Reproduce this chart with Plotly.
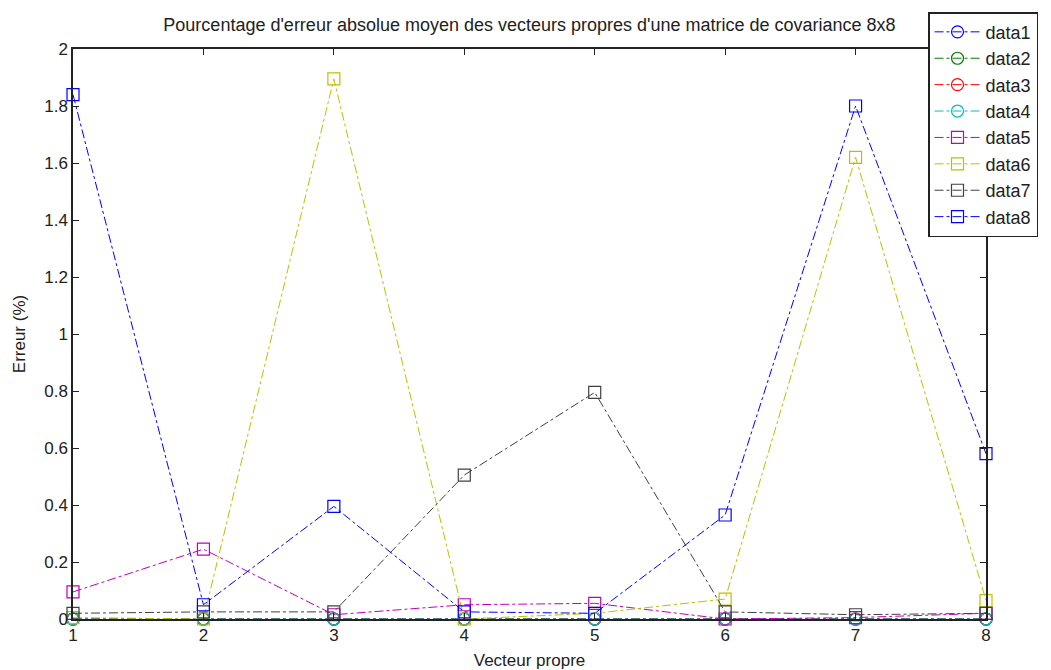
import plotly.graph_objects as go

# Eigenvector index on the x axis
vecteurs = [1, 2, 3, 4, 5, 6, 7, 8]

# Mean absolute error (%) per eigenvector for each series
data1 = [0.0, 0.0, 0.0, 0.0, 0.0, 0.0, 0.0, 0.0]
data2 = [0.0, 0.0, 0.0, 0.0, 0.0, 0.0, 0.0, 0.0]
data3 = [0.0, 0.0, 0.0, 0.0, 0.0, 0.0, 0.0, 0.0]
data4 = [0.0, 0.0, 0.0, 0.0, 0.0, 0.0, 0.0, 0.0]
data5 = [0.095, 0.245, 0.015, 0.05, 0.055, 0.0, 0.005, 0.02]
data6 = [0.005, 0.0, 1.895, 0.0, 0.02, 0.07, 1.62, 0.065]
data7 = [0.02, 0.025, 0.025, 0.505, 0.795, 0.025, 0.015, 0.02]
data8 = [1.84, 0.05, 0.395, 0.025, 0.02, 0.365, 1.80, 0.58]

series_names = ["data1", "data2", "data3", "data4", "data5", "data6", "data7", "data8"]
series_values = [data1, data2, data3, data4, data5, data6, data7, data8]
series_colors = ["#0000FF", "#008000", "#FF0000", "#00BFBF",
                 "#BF00BF", "#BFBF00", "#404040", "#0000FF"]
series_symbols = ["circle-open"] * 4 + ["square-open"] * 4

y_ticks = [0, 0.2, 0.4, 0.6, 0.8, 1, 1.2, 1.4, 1.6, 1.8, 2]
y_tick_labels = ["0", "0.2", "0.4", "0.6", "0.8", "1", "1.2", "1.4", "1.6", "1.8", "2"]

FONT = "Liberation Sans, Arial, sans-serif"
INK = "#222222"

fig = go.Figure()
for name, vals, col, sym in zip(series_names, series_values, series_colors, series_symbols):
    fig.add_trace(go.Scatter(
        x=vecteurs, y=vals, name=name, mode="lines+markers",
        line=dict(color=col, width=1, dash="dashdot"),
        marker=dict(symbol=sym, size=12, color=col, line=dict(color=col, width=1.2)),
        cliponaxis=False,
    ))

axis_common = dict(
    showline=True, linecolor=INK, linewidth=1.5, mirror="ticks",
    ticks="inside", ticklen=6, tickcolor=INK, showgrid=False, zeroline=False,
    tickfont=dict(family=FONT, size=17, color=INK), automargin=False,
)

fig.update_layout(
    width=1051, height=670,
    margin=dict(l=73, r=65, t=47, b=51),
    paper_bgcolor="white", plot_bgcolor="white",
    title=dict(
        text="Pourcentage d'erreur absolue moyen des vecteurs propres d'une matrice de covariance 8x8",
        x=(73 + 986) / 2 / 1051, xanchor="center", y=1 - 25 / 670, yanchor="middle",
        font=dict(family=FONT, size=18, color=INK),
    ),
    xaxis=dict(range=[1, 8], tickvals=vecteurs, ticktext=[str(v) for v in vecteurs],
               title=dict(text="Vecteur propre", standoff=15,
                          font=dict(family=FONT, size=17, color=INK)),
               **axis_common),
    yaxis=dict(range=[0, 2], tickvals=y_ticks, ticktext=y_tick_labels,
               title=dict(text="Erreur (%)", standoff=14,
                          font=dict(family=FONT, size=17, color=INK)),
               **axis_common),
    legend=dict(
        x=(928 - 73) / 913, xanchor="left", y=1 + (47 - 10) / 572, yanchor="top",
        bgcolor="white", bordercolor=INK, borderwidth=1.5,
        font=dict(family=FONT, size=18, color=INK),
        itemwidth=46, tracegroupgap=0,
    ),
    showlegend=True,
)

fig.write_html("out.html")
